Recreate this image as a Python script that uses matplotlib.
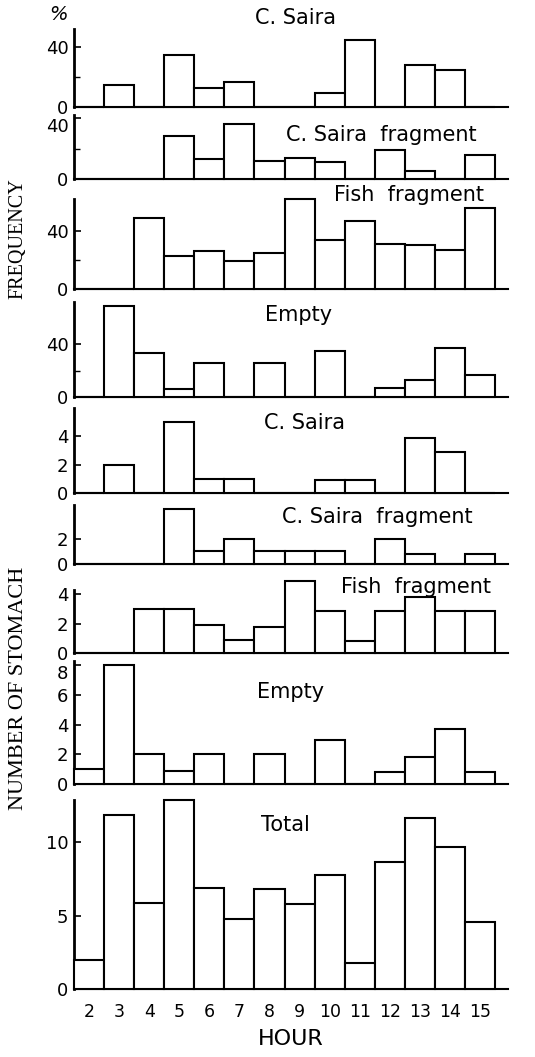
"""
Hourly stomach contents: frequency (%) and number of stomachs per prey type.
"""

from __future__ import annotations

import matplotlib

matplotlib.use("Agg")
import matplotlib.pyplot as plt
from matplotlib.ticker import FixedLocator

HOURS = list(range(2, 16))

# frequency (%)
SAIRA_PCT = [0, 14.5, 0, 35, 12.5, 17, 0, 0, 9.5, 45, 0, 28, 25, 0]
SAIRA_FRAG_PCT = [0, 0, 0, 28, 13, 36, 12, 13.5, 11, 0, 19, 5.5, 0, 16]
FISH_FRAG_PCT = [0, 0, 49, 23, 26, 19, 25, 62, 34, 47, 31, 30, 27, 56]
EMPTY_PCT = [0, 69, 33, 6, 26, 0, 25.5, 0, 35, 0, 7, 13, 37.5, 16.5]

# number of stomachs
SAIRA_N = [0, 2, 0, 5, 1, 1, 0, 0, 0.9, 0.9, 0, 3.9, 2.9, 0]
SAIRA_FRAG_N = [0, 0, 0, 4.4, 1, 2, 1, 1, 1, 0, 2, 0.8, 0, 0.8]
FISH_FRAG_N = [0, 0, 3, 3, 1.9, 0.9, 1.8, 4.9, 2.9, 0.8, 2.9, 3.8, 2.9, 2.9]
EMPTY_N = [1, 8, 2, 0.9, 2, 0, 2, 0, 3, 0, 0.8, 1.8, 3.7, 0.8]
TOTAL_N = [2, 11.9, 5.9, 12.9, 6.9, 4.8, 6.8, 5.8, 7.8, 1.8, 8.7, 11.7, 9.7, 4.6]

TITLES = [
    "C. Saira",
    "C. Saira  fragment",
    "Fish  fragment",
    "Empty",
    "C. Saira",
    "C. Saira  fragment",
    "Fish  fragment",
    "Empty",
    "Total",
]
SERIES = [
    SAIRA_PCT, SAIRA_FRAG_PCT, FISH_FRAG_PCT, EMPTY_PCT,
    SAIRA_N, SAIRA_FRAG_N, FISH_FRAG_N, EMPTY_N, TOTAL_N,
]
YMAX = [52, 42, 62, 72, 6, 4.7, 4.3, 8.3, 12.9]
MAJOR_TICKS = [
    [0, 40], [0, 40], [0, 40], [0, 40],
    [0, 2, 4], [0, 2], [0, 2, 4], [0, 2, 4, 6, 8], [0, 5, 10],
]
MINOR_TICKS = [[20], [20], [20], [20], [], [], [], [], []]
# panels whose top tick label hangs below its tick (as in the original)
HANGING_TOP_LABEL = {1, 7}

# panel pixel extents (top of spine, zero line) and title anchor in axes fraction
PANEL_PX = [
    (29, 107), (115, 179), (199, 289), (302, 397), (408, 493),
    (505, 564), (590, 653), (661, 784), (800, 989),
]
TITLE_POS = [
    (0.51, 1.14), (0.707, 0.69), (0.772, 1.04), (0.518, 0.86), (0.53, 0.82),
    (0.70, 0.80), (0.788, 1.05), (0.498, 0.75), (0.488, 0.87),
]

W_PX, H_PX = 535, 1057
LEFT_PX, RIGHT_PX = 74, 508
LW = 1.5


def draw_panel(fig, idx: int, last: bool) -> None:
    top, zero = PANEL_PX[idx]
    rect = (
        LEFT_PX / W_PX,
        1 - zero / H_PX,
        (RIGHT_PX - LEFT_PX) / W_PX,
        (zero - top) / H_PX,
    )
    ax = fig.add_axes(rect)
    ax.bar(HOURS, SERIES[idx], width=1.0, color="white", edgecolor="black",
           linewidth=LW, zorder=3, clip_on=False)
    ax.set_xlim(1.5, 15.93)
    ax.set_ylim(0, YMAX[idx])

    for side in ("top", "right"):
        ax.spines[side].set_visible(False)
    ax.spines["left"].set_linewidth(LW + 0.5)
    ax.spines["bottom"].set_linewidth(LW)

    ax.yaxis.set_major_locator(FixedLocator(MAJOR_TICKS[idx]))
    ax.yaxis.set_minor_locator(FixedLocator(MINOR_TICKS[idx]))
    ax.tick_params(axis="y", which="major", direction="in", length=5, width=1.2,
                   labelsize=13, pad=4)
    ax.tick_params(axis="y", which="minor", direction="in", length=4, width=1.0)
    ax.tick_params(axis="x", length=0, labelsize=12.5, pad=10)
    ax.set_xticks(HOURS)
    if not last:
        ax.set_xticklabels([])
    if idx in HANGING_TOP_LABEL:
        ax.get_yticklabels()[-1].set_va("top")
    ax.patch.set_alpha(0)

    tx, ty = TITLE_POS[idx]
    ax.text(tx, ty, TITLES[idx], transform=ax.transAxes, ha="center",
            va="center", fontsize=15, clip_on=False)
    if last:
        ax.set_xlabel("HOUR", fontsize=16, labelpad=6)


def main() -> None:
    fig = plt.figure(figsize=(W_PX / 100, H_PX / 100), dpi=100)
    for i in range(len(SERIES)):
        draw_panel(fig, i, last=(i == len(SERIES) - 1))

    serif = ["Liberation Serif", "DejaVu Serif"]
    fig.text(18 / W_PX, 1 - 239 / H_PX, "FREQUENCY", rotation=90, ha="center",
             va="center", fontsize=14.5, family=serif)
    fig.text(19 / W_PX, 1 - 688 / H_PX, "NUMBER OF STOMACH", rotation=90,
             ha="center", va="center", fontsize=16, family=serif)
    fig.text(58 / W_PX, 1 - 15 / H_PX, "%", ha="center", va="center",
             fontsize=14, style="italic")

    fig.savefig("out.png", dpi=100)
    plt.close(fig)


if __name__ == "__main__":
    main()
